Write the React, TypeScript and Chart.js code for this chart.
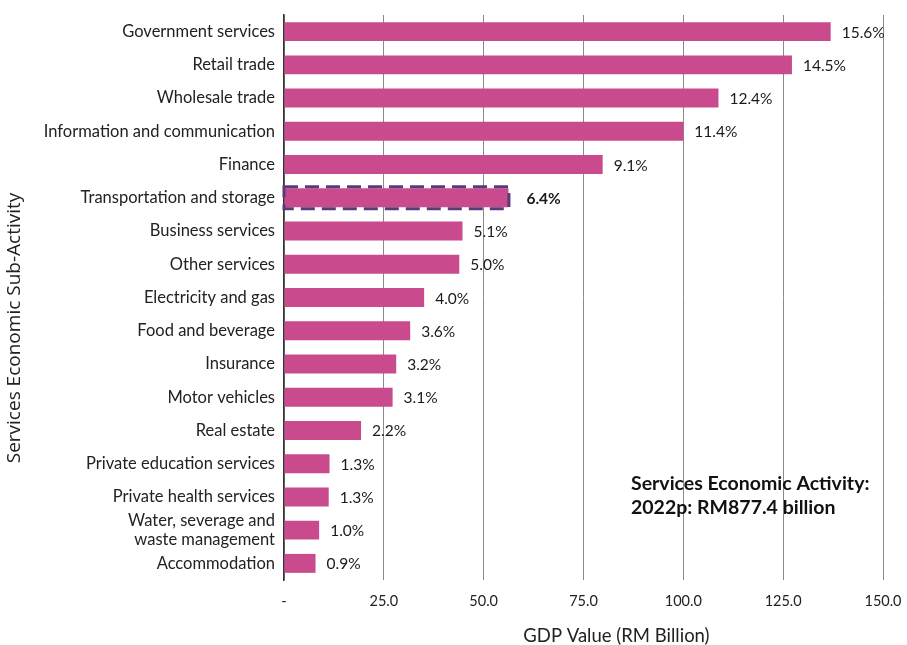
import React, { useEffect, useRef } from "react";
import { Chart, registerables } from "chart.js";

Chart.register(...registerables);

const categories: (string | string[])[] = [
  "Government services",
  "Retail trade",
  "Wholesale trade",
  "Information and communication",
  "Finance",
  "Transportation and storage",
  "Business services",
  "Other services",
  "Electricity and gas",
  "Food and beverage",
  "Insurance",
  "Motor vehicles",
  "Real estate",
  "Private education services",
  "Private health services",
  ["Water, severage and", "waste management"],
  "Accommodation",
];

// GDP value, RM billion
const gdpValues = [
  136.9, 127.2, 108.8, 100.0, 79.8, 56.2, 44.7, 43.9, 35.1, 31.6, 28.1, 27.2,
  19.3, 11.4, 11.2, 8.8, 7.9,
];

// Share of total services GDP
const shareLabels = [
  "15.6%", "14.5%", "12.4%", "11.4%", "9.1%", "6.4%", "5.1%", "5.0%", "4.0%",
  "3.6%", "3.2%", "3.1%", "2.2%", "1.3%", "1.3%", "1.0%", "0.9%",
];

const highlightIndex = 5;
const xTitle = "GDP Value (RM Billion)";
const yTitle = "Services Economic Sub-Activity";
const noteLines = ["Services Economic Activity:", "2022p: RM877.4 billion"];

const FONT = "Lato, 'Open Sans', sans-serif";
const TITLE_FONT = "'Open Sans', sans-serif";

const decorations = {
  id: "decorations",
  afterDatasetsDraw(chart: any) {
    const ctx = chart.ctx;
    const meta = chart.getDatasetMeta(0);
    const area = chart.chartArea;

    // percentage labels at bar ends
    meta.data.forEach((bar: any, i: number) => {
      const bold = i === highlightIndex;
      ctx.save();
      ctx.font = `${bold ? "bold " : ""}15.5px ${FONT}`;
      ctx.fillStyle = "#1a1a1a";
      ctx.textAlign = "left";
      ctx.textBaseline = "middle";
      ctx.fillText(shareLabels[i], bar.x + (bold ? 18 : 11), bar.y + 1);
      ctx.restore();
    });

    // dashed outline around the highlighted bar
    const hb: any = meta.data[highlightIndex];
    if (hb) {
      const h = hb.height;
      ctx.save();
      ctx.strokeStyle = "#5B3A7C";
      ctx.lineWidth = 3;
      ctx.lineJoin = "miter";
      ctx.setLineDash([14, 7]);
      ctx.strokeRect(hb.base - 0.5, hb.y - h / 2 - 1.5, hb.x - hb.base + 1, h + 3);
      ctx.restore();
    }

    // axis titles
    ctx.save();
    ctx.fillStyle = "#222";
    ctx.textAlign = "center";
    ctx.textBaseline = "middle";
    ctx.font = `18.5px ${FONT}`;
    ctx.fillText(xTitle, area.left + (area.right - area.left) * 0.555, 636);
    ctx.translate(15, 328);
    ctx.rotate(-Math.PI / 2);
    ctx.font = `19px ${TITLE_FONT}`;
    ctx.fillText(yTitle, 0, 0);
    ctx.restore();

    // total note
    ctx.save();
    ctx.font = `bold 19.5px ${FONT}`;
    ctx.fillStyle = "#111";
    ctx.textAlign = "left";
    ctx.textBaseline = "middle";
    noteLines.forEach((line, i) => ctx.fillText(line, 631, 484 + i * 24));
    ctx.restore();
  },
};

export default function App() {
  const canvasRef = useRef<HTMLCanvasElement | null>(null);

  useEffect(() => {
    if (!canvasRef.current) return;
    const chart = new Chart(canvasRef.current, {
      type: "bar",
      data: {
        labels: categories,
        datasets: [
          {
            data: gdpValues,
            backgroundColor: "#C94B8D",
            borderWidth: 0,
            barPercentage: 0.57,
            categoryPercentage: 1,
          },
        ],
      },
      plugins: [decorations],
      options: {
        indexAxis: "y",
        responsive: false,
        animation: false,
        layout: { padding: { top: 15, right: 24, bottom: 0, left: 0 } },
        plugins: {
          legend: { display: false },
          tooltip: { enabled: false },
        },
        scales: {
          x: {
            min: 0,
            max: 150,
            afterFit: (s: any) => {
              s.height = 65;
              s.paddingLeft = 0;
              s.paddingRight = 0;
            },
            ticks: {
              stepSize: 25,
              color: "#222",
              font: { family: FONT, size: 14.5 },
              padding: 13,
              callback: (v: any) => (Number(v) === 0 ? "-" : Number(v).toFixed(1)),
            },
            grid: { color: "#8a8a8a", lineWidth: 1, drawTicks: false },
            border: { display: false },
          },
          y: {
            afterFit: (s: any) => {
              s.width = 284;
              s.paddingTop = 0;
              s.paddingBottom = 0;
            },
            ticks: {
              color: "#222",
              font: { family: FONT, size: 16.5 },
              padding: 9,
              autoSkip: false,
            },
            grid: { display: false, drawTicks: false },
            border: { display: true, color: "#333", width: 1.5 },
          },
        },
      },
    } as any);
    return () => chart.destroy();
  }, []);

  return (
    <div style={{ position: "fixed", left: 0, top: 0, width: 907, height: 645, background: "#fff" }}>
      <canvas ref={canvasRef} width={907} height={645} />
    </div>
  );
}
